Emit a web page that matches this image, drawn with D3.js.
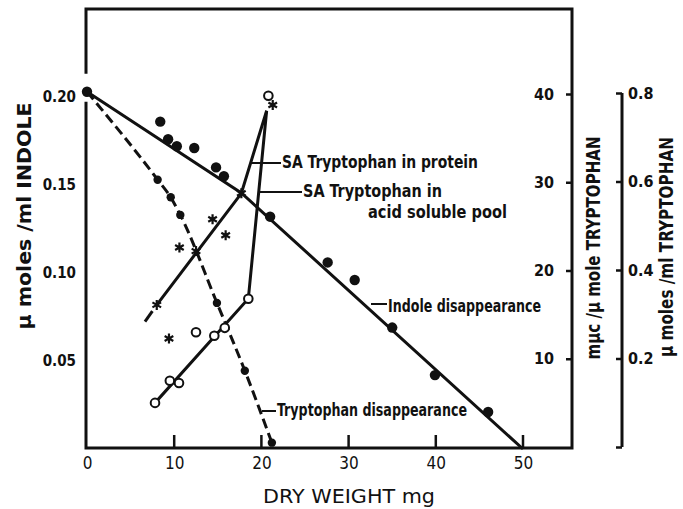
<!DOCTYPE html>
<html>
<head>
<meta charset="utf-8">
<style>
body { margin: 0; background: #fff; }
svg { display: block; }
text { fill: #111; }
.cond { font-family: "Liberation Sans Narrow", "DejaVu Sans Condensed", "DejaVu Sans", sans-serif; font-weight: bold; }
.axis path { display: none; }
.axis line { stroke: #111; stroke-width: 2.5; }
.fit { fill: none; stroke: #111; stroke-width: 3; }
</style>
</head>
<body>

<svg id="chart" width="683" height="509"></svg>

<script src="https://d3js.org/d3.v7.min.js"></script>
<script>

// dry weight (mg) on x
var xTicks = [0, 10, 20, 30, 40, 50];
var indoleTicks = [0.05, 0.10, 0.15, 0.20];
var saTicks = [10, 20, 30, 40];
var tryTicks = [0, 0.2, 0.4, 0.6, 0.8];

// indole disappearance (umoles/ml, left axis)
var indoleX = [0, 8.4, 9.3, 10.3, 12.3, 14.8, 15.7, 21.0, 27.6, 30.7, 35.0, 39.9, 46.0];
var indoleY = [0.203, 0.186, 0.176, 0.172, 0.171, 0.160, 0.155, 0.132, 0.106, 0.096, 0.069, 0.042, 0.021];
var indoleFitX = [0, 17.7, 50];
var indoleFitY = [0.203, 0.1455, 0];

// tryptophan disappearance (left axis scale)
var tryX = [0, 8.1, 9.6, 10.7, 14.9, 18.1, 21.2];
var tryY = [0.203, 0.153, 0.143, 0.133, 0.083, 0.0445, 0.0036];

// SA tryptophan in protein (open circles, right axis)
var protX = [7.8, 9.5, 10.55, 12.5, 14.6, 15.8, 18.5, 20.8];
var protY = [5.0, 7.5, 7.25, 13.0, 12.6, 13.5, 16.8, 39.8];
var protFitX = [7.8, 18.5, 20.6];
var protFitY = [5.0, 16.8, 38.1];

// SA tryptophan in acid soluble pool (asterisks, right axis)
var poolX = [8.0, 9.4, 10.6, 12.5, 14.4, 15.9, 17.7, 21.3];
var poolY = [16.1, 12.3, 22.6, 22.2, 25.8, 24.0, 28.75, 38.75];
var poolDashX = [6.65, 7.5];
var poolDashY = [14.2, 15.4];
var poolFitX = [8.0, 17.7, 20.6];
var poolFitY = [16.1, 28.75, 38.1];

var svg = d3.select("#chart");

var x = d3.scaleLinear().domain([0, 50]).range([87, 523]);
var yL = d3.scaleLinear().domain([0, 0.2]).range([449, 97]);
var yR = d3.scaleLinear().domain([0, 40]).range([447, 94]);
var yT = d3.scaleLinear().domain([0, 0.8]).range([447, 93]);

var frameL = 86, frameR = 572, frameT = 9, frameB = 448;

// frame (left side broken around the first point)
var gapY = yL(indoleY[0]);
svg.append("path")
    .attr("d", "M" + frameL + "," + (gapY - 18) + "V" + frameT + "H" + frameR + "V" + frameB + "H" + frameL + "V" + (gapY + 10))
    .attr("fill", "none")
    .attr("stroke", "#111")
    .attr("stroke-width", 3);

// x axis labels
var gx = svg.append("g")
    .attr("class", "axis cond")
    .attr("transform", "translate(0," + frameB + ")")
    .call(d3.axisBottom(x).tickValues(xTicks).tickSize(0).tickPadding(9));
gx.selectAll("text").attr("font-size", 17).attr("font-weight", "normal");

// x ticks pointing up into the plot
svg.selectAll(".xtick").data(xTicks.slice(1)).enter().append("line")
    .attr("x1", function(d) { return x(d); })
    .attr("x2", function(d) { return x(d); })
    .attr("y1", frameB)
    .attr("y2", frameB - 13)
    .attr("stroke", "#111")
    .attr("stroke-width", 2.5);

// left axis
var gl = svg.append("g")
    .attr("class", "axis cond")
    .attr("transform", "translate(" + frameL + ",0)")
    .call(d3.axisLeft(yL).tickValues(indoleTicks).tickSize(0).tickPadding(10).tickFormat(d3.format(".2f")));
gl.selectAll("text").attr("font-size", 15);

// right axis (SA)
var gr = svg.append("g")
    .attr("class", "axis cond")
    .attr("transform", "translate(" + frameR + ",0)")
    .call(d3.axisLeft(yR).tickValues(saTicks).tickSize(6).tickPadding(12).tickSizeOuter(0));
gr.selectAll("text").attr("font-size", 16);

// far right axis (tryptophan umoles/ml)
var farX = 622;
svg.append("line")
    .attr("x1", farX).attr("x2", farX)
    .attr("y1", yT(0)).attr("y2", yT(0.8))
    .attr("stroke", "#111").attr("stroke-width", 3);
var gt = svg.append("g")
    .attr("class", "axis cond")
    .attr("transform", "translate(" + farX + ",0)")
    .call(d3.axisRight(yT).tickValues(tryTicks).tickSize(-6).tickPadding(6).tickSizeOuter(0)
        .tickFormat(function(d) { return d ? d3.format(".1f")(d) : ""; }));
gt.selectAll("text").attr("font-size", 16);

// axis titles
function vtitle(tx, ty, txt, len) {
    svg.append("text")
        .attr("class", "cond")
        .attr("transform", "translate(" + tx + "," + ty + ") rotate(-90)")
        .attr("text-anchor", "middle")
        .attr("font-size", 19)
        .attr("textLength", len)
        .attr("lengthAdjust", "spacingAndGlyphs")
        .text(txt);
}
vtitle(31, 216, "\u03bc moles /ml INDOLE", 227);
vtitle(600, 248, "m\u03bcc /\u03bc mole TRYPTOPHAN", 223);
vtitle(673, 247, "\u03bc moles /ml  TRYPTOPHAN", 220);

svg.append("text")
    .attr("x", 263).attr("y", 503)
    .attr("font-family", "DejaVu Sans, sans-serif")
    .attr("font-size", 20)
    .attr("textLength", 172)
    .attr("lengthAdjust", "spacingAndGlyphs")
    .text("DRY WEIGHT mg");

// lines
var lineL = d3.line().x(function(d) { return x(d[0]); }).y(function(d) { return yL(d[1]); });
var lineR = d3.line().x(function(d) { return x(d[0]); }).y(function(d) { return yR(d[1]); });

svg.append("path").attr("class", "fit").attr("d", lineL(d3.zip(indoleFitX, indoleFitY)));
svg.append("path").attr("class", "fit")
    .attr("stroke-dasharray", "10,5")
    .attr("d", lineL.curve(d3.curveMonotoneX)(d3.zip(tryX, tryY)));
lineL.curve(d3.curveLinear);
svg.append("path").attr("class", "fit").attr("d", lineR(d3.zip(protFitX, protFitY)));
svg.append("path").attr("class", "fit").attr("d", lineR(d3.zip(poolFitX, poolFitY)));
svg.append("path").attr("class", "fit").attr("d", lineR(d3.zip(poolDashX, poolDashY)));

// points
svg.selectAll(".ind").data(d3.zip(indoleX, indoleY)).enter().append("circle")
    .attr("cx", function(d) { return x(d[0]); })
    .attr("cy", function(d) { return yL(d[1]); })
    .attr("r", 5.2).attr("fill", "#111");

svg.selectAll(".try").data(d3.zip(tryX, tryY).slice(1)).enter().append("circle")
    .attr("cx", function(d) { return x(d[0]); })
    .attr("cy", function(d) { return yL(d[1]); })
    .attr("r", 4.2).attr("fill", "#111");

svg.selectAll(".prot").data(d3.zip(protX, protY)).enter().append("circle")
    .attr("cx", function(d) { return x(d[0]); })
    .attr("cy", function(d) { return yR(d[1]); })
    .attr("r", 4.3).attr("fill", "#fff").attr("stroke", "#111").attr("stroke-width", 2);

var star = d3.symbol().type(d3.symbolAsterisk).size(70);
svg.selectAll(".pool").data(d3.zip(poolX, poolY)).enter().append("path")
    .attr("transform", function(d) { return "translate(" + x(d[0]) + "," + yR(d[1]) + ")"; })
    .attr("d", star)
    .attr("fill", "none").attr("stroke", "#111").attr("stroke-width", 2.2);

// labels with leaders
var notes = [
    {t: "SA Tryptophan in protein", x: 282, y: 168, len: 196, lx1: 250, lx2: 281, ly: 163},
    {t: "SA Tryptophan in", x: 303, y: 197, len: 139, lx1: 258, lx2: 302, ly: 192},
    {t: "acid soluble pool", x: 368, y: 218, len: 139},
    {t: "Indole disappearance", x: 388, y: 312, len: 153, lx1: 371, lx2: 387, ly: 304},
    {t: "Tryptophan disappearance", x: 277, y: 416, len: 190, lx1: 262, lx2: 276, ly: 411}
];
notes.forEach(function(n) {
    svg.append("text")
        .attr("class", "cond")
        .attr("x", n.x).attr("y", n.y)
        .attr("font-size", 18)
        .attr("textLength", n.len)
        .attr("lengthAdjust", "spacingAndGlyphs")
        .text(n.t);
    if (n.lx1) {
        svg.append("line")
            .attr("x1", n.lx1).attr("x2", n.lx2)
            .attr("y1", n.ly).attr("y2", n.ly)
            .attr("stroke", "#111").attr("stroke-width", 2);
    }
});

</script>
</body>
</html>
